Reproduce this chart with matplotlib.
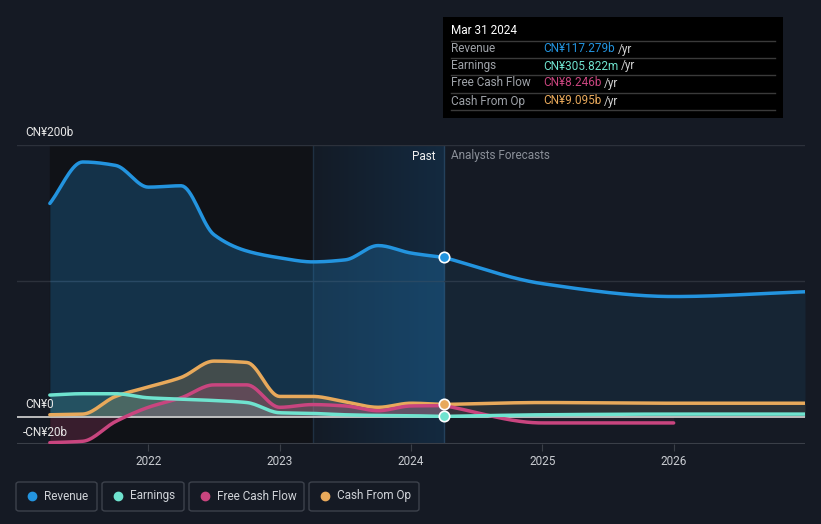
import numpy as np
import matplotlib
matplotlib.use('Agg')
import matplotlib.pyplot as plt
from matplotlib.patches import FancyBboxPatch, Rectangle
from matplotlib.colors import LinearSegmentedColormap

plt.rcParams['font.family'] = ['Roboto', 'DejaVu Sans']

# Dados (bilhões de CN¥)
past_x = [2021.25, 2021.5, 2021.75, 2022.0, 2022.25, 2022.5, 2022.75,
          2023.0, 2023.25, 2023.5, 2023.75, 2024.0, 2024.25]
revenue_past = [157, 187.5, 185, 169, 170, 134, 122, 117, 114, 115.5, 126, 120.5, 117.279]
earnings_past = [16, 17, 17, 14, 13, 12, 10.5, 3, 2.5, 1.5, 1, 0.8, 0.306]
fcf_past = [-19, -18, -3.5, 7, 14, 23.5, 23.5, 7, 9, 8, 4.5, 8, 8.246]
cfo_past = [1.5, 2, 15, 22, 29, 41, 40, 15, 15, 11, 7, 10, 9.095]

fc_x = [2024.25, 2025.0, 2026.0, 2027.0]
revenue_fc = [117.279, 98, 88.5, 92]
earnings_fc = [0.306, 1.5, 2.0, 2.0]
cfo_fc = [9.095, 10.5, 10, 10]
fcf_fc_x = [2024.25, 2025.0, 2026.0]
fcf_fc = [8.246, -4.5, -4.5]

years = [2022, 2023, 2024, 2025, 2026]
series_names = ['Revenue', 'Earnings', 'Free Cash Flow', 'Cash From Op']
tooltip_vals = ['CN¥117.279b', 'CN¥305.822m', 'CN¥8.246b', 'CN¥9.095b']

c_rev = '#2394df'
c_earn = '#6fe3cf'
c_fcf = '#c9457f'
c_cfo = '#e8a95b'
colors = [c_rev, c_earn, c_fcf, c_cfo]
bg = '#151a24'


def pchip(x, y, n=200):
    # curva monotona (como o desenho original)
    x = np.asarray(x, float)
    y = np.asarray(y, float)
    h = np.diff(x)
    d = np.diff(y) / h
    m = np.zeros_like(y)
    for k in range(1, len(y) - 1):
        if d[k - 1] * d[k] > 0:
            w1 = 2 * h[k] + h[k - 1]
            w2 = h[k] + 2 * h[k - 1]
            m[k] = (w1 + w2) / (w1 / d[k - 1] + w2 / d[k])
    m[0] = d[0]
    m[-1] = d[-1]
    xs, ys = [], []
    for k in range(len(h)):
        t = np.linspace(0, 1, n // len(h) + 2)
        h00 = 2 * t**3 - 3 * t**2 + 1
        h10 = t**3 - 2 * t**2 + t
        h01 = -2 * t**3 + 3 * t**2
        h11 = t**3 - t**2
        xs.append(x[k] + t * h[k])
        ys.append(h00 * y[k] + h10 * h[k] * m[k] + h01 * y[k + 1] + h11 * h[k] * m[k + 1])
    return np.concatenate(xs), np.concatenate(ys)


fig = plt.figure(figsize=(8.21, 5.24), dpi=100, facecolor=bg)
W, H = 821, 524
ax = fig.add_axes([17 / W, (H - 444) / H, (805 - 17) / W, (444 - 145) / H])
ax.set_facecolor(bg)
ax.set_xlim(2021.0, 2027.0)
ax.set_ylim(-20, 200)
for s in ax.spines.values():
    s.set_visible(False)

# regiões de fundo
ax.axvspan(2021.25, 2023.25, color='#101217', zorder=0)
grad = np.linspace(0, 1, 256).reshape(1, -1)
cmap = LinearSegmentedColormap.from_list('g', ['#131b26', '#142a40'])
ax.imshow(grad, extent=[2023.25, 2024.25, -20, 200], aspect='auto', cmap=cmap, zorder=0.5)
ax.axvline(2023.25, color='#1f3042', lw=1, zorder=1)
ax.axvline(2024.25, color='#24415c', lw=1, zorder=1)

# grades
for v in [100, 200]:
    ax.axhline(v, color='#2c313b', lw=1, zorder=1)
ax.axhline(-20, color='#3a3f48', lw=1.5, zorder=1)

# séries
curves = [
    (past_x, revenue_past, fc_x, revenue_fc, c_rev, 0.25, 0.09),
    (past_x, cfo_past, fc_x, cfo_fc, c_cfo, 0.22, 0.10),
    (past_x, fcf_past, fcf_fc_x, fcf_fc, c_fcf, 0.22, 0.08),
    (past_x, earnings_past, fc_x, earnings_fc, c_earn, 0.18, 0.08),
]
for px, py, fx, fy, col, a, af in curves:
    xs, ys = pchip(px, py)
    xf, yf = pchip(fx, fy)
    ax.fill_between(xs, ys, 0, color=col, alpha=a, lw=0, zorder=2)
    ax.fill_between(xf, yf, 0, color=col, alpha=af, lw=0, zorder=2)
    ax.plot(xs, ys, color=col, lw=2.5, zorder=4, solid_capstyle='round')
    ax.plot(xf, yf, color=col, lw=2.5, zorder=4, solid_capstyle='round')

ax.axhline(0, color='#c8c8c8', lw=1.3, zorder=3)

# marcadores no ponto atual
for val, col in [(revenue_past[-1], c_rev), (cfo_past[-1], c_cfo), (earnings_past[-1], c_earn)]:
    ax.plot(2024.25, val, 'o', ms=7.5, color=col, mec='white', mew=1.2, zorder=6)

# eixo x
ax.set_xticks(years)
ax.set_xticklabels([str(y) for y in years], color='#c9ccd1', fontsize=8.5)
ax.tick_params(axis='x', length=5, color='#3a3f48', pad=3)
ax.set_yticks([])

# rótulos do eixo y
fig.text(25 / W, (H - 132) / H, 'CN¥200b', fontsize=8.5, color='#e6e6e6', va='center')
fig.text(25 / W, (H - 405) / H, 'CN¥0', fontsize=8.5, color='#e6e6e6', va='center')
fig.text(23 / W, (H - 432) / H, '-CN¥20b', fontsize=8.5, color='#e6e6e6', va='center')

fig.text(435 / W, (H - 156) / H, 'Past', fontsize=8.5, color='#f0f0f0', ha='right', va='center')
fig.text(451 / W, (H - 156) / H, 'Analysts Forecasts', fontsize=8.5, color='#8a8f98', ha='left', va='center')

# caixa de informação
box = Rectangle((443 / W, (H - 118) / H), 340 / W, 101 / H, transform=fig.transFigure,
                facecolor='#000000', edgecolor='none', zorder=10)
fig.add_artist(box)
fig.text(451 / W, (H - 31) / H, 'Mar 31 2024', fontsize=8.5, color='#ffffff', va='center', zorder=11)
row_y = [49, 66, 83, 101]
for i, name in enumerate(series_names):
    fig.text(451 / W, (H - row_y[i]) / H, name, fontsize=8.5, color='#9ea2a8', va='center', zorder=11)
    t = fig.text(543 / W, (H - row_y[i]) / H, tooltip_vals[i], fontsize=8.5, color=colors[i], va='center', zorder=11)
    fig.canvas.draw()
    bb = t.get_window_extent()
    fig.text((bb.x1 + 3) / W, (H - row_y[i]) / H, '/yr', fontsize=8.5, color='#d0d0d0', va='center', zorder=11)
for yy in [41, 58, 75, 93, 110]:
    fig.add_artist(plt.Line2D([451 / W, 775 / W], [(H - yy) / H] * 2, color='#3a3a3a', lw=1,
                              transform=fig.transFigure, zorder=11))

# legenda
leg_boxes = [(16, 97), (102, 184), (189, 304), (309, 419)]
for (x0, x1), name, col in zip(leg_boxes, series_names, colors):
    fig.add_artist(FancyBboxPatch((x0 / W, (H - 511) / H), (x1 - x0) / W, 29 / H,
                                  boxstyle='round,pad=0,rounding_size=0.004', transform=fig.transFigure,
                                  facecolor='none', edgecolor='#3d424c', lw=1))
    fig.add_artist(plt.Line2D([(x0 + 16) / W], [(H - 496) / H], marker='o', ms=6, color=col,
                              transform=fig.transFigure, lw=0))
    fig.text((x0 + 28) / W, (H - 496) / H, name, fontsize=8.5, color='#d0d3d8', va='center')

fig.savefig('out.png', dpi=100, facecolor=bg)
